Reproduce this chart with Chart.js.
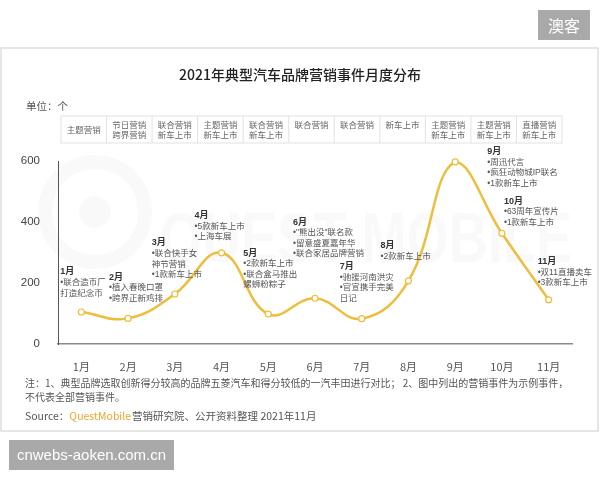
<!DOCTYPE html>
<html>
<head>
<meta charset="utf-8">
<script src="https://cdn.jsdelivr.net/npm/chart.js@4"></script>
<style>
  body { margin: 0; background: #fff; }
  canvas { display: block; }
</style>
</head>
<body>
<canvas id="chart" width="600" height="480"></canvas>
<script>
// Data
const months = ['1月', '2月', '3月', '4月', '5月', '6月', '7月', '8月', '9月', '10月', '11月'];
const eventCounts = [105, 84, 164, 299, 98, 150, 83, 207, 597, 363, 145];
const yTicks = [0, 200, 400, 600];

// marketing type per month (table above the chart)
const marketingTypes = [
    ['主题营销'],
    ['节日营销', '跨界营销'],
    ['联合营销', '新车上市'],
    ['主题营销', '新车上市'],
    ['联合营销', '新车上市'],
    ['联合营销'],
    ['联合营销'],
    ['新车上市'],
    ['主题营销', '新车上市'],
    ['主题营销', '新车上市'],
    ['直播营销', '新车上市']
];

// event notes per month
const eventNotes = [
    ['•联合造币厂', '打造纪念币'],
    ['•植入春晚口罩', '•跨界正新鸡排'],
    ['•联合快手女', '神节营销', '•1款新车上市'],
    ['•5款新车上市', '•上海车展'],
    ['•2款新车上市', '•联合盒马推出', '螺蛳粉粽子'],
    ['•"熊出没"联名款', '•留意盛夏嘉年华', '•联合家居品牌营销'],
    ['•驰援河南洪灾', '•官宣携手完美', '日记'],
    ['•2款新车上市'],
    ['•周迅代言', '•疯狂动物城IP联名', '•1款新车上市'],
    ['•63周年宣传片', '•1款新车上市'],
    ['•双11直播卖车', '•3款新车上市']
];

// where each note block sits relative to its point (layout only)
const noteOffsets = [
    [-21, -40], [-19, -41], [-23, -51], [-27, -37], [-25, -61], [-22, -76],
    [-22, -52], [-28, -35], [32, -10], [2, -32], [-11, -38]
];

const FONT = "'Noto Sans CJK SC', 'Liberation Sans', sans-serif";
const NOTE_FONT = "'Liberation Sans', 'Noto Sans CJK SC', sans-serif";
const LINE_COLOR = '#EEBD3B';

// Background: card, watermarks, title, table, footnotes
const decorPlugin = {
    id: 'decor',
    beforeDraw(chart) {
        const ctx = chart.ctx;
        const area = chart.chartArea;
        ctx.save();
        ctx.fillStyle = '#fff';
        ctx.fillRect(0, 0, 600, 480);

        // card border
        ctx.strokeStyle = '#dedede';
        ctx.lineWidth = 1.5;
        ctx.strokeRect(1, 48, 597, 383);

        // faint QuestMobile logo
        ctx.strokeStyle = 'rgba(0,0,0,0.025)';
        ctx.lineWidth = 14;
        ctx.beginPath();
        ctx.arc(95, 212, 50, 0, Math.PI * 2);
        ctx.stroke();
        ctx.fillStyle = 'rgba(0,0,0,0.025)';
        ctx.beginPath();
        ctx.arc(95, 212, 16, 0, Math.PI * 2);
        ctx.fill();
        ctx.font = "bold 70px 'Liberation Sans', sans-serif";
        ctx.textBaseline = 'alphabetic';
        ctx.textAlign = 'left';
        const wm = 'QUEST MOBILE';
        const sx = 412 / ctx.measureText(wm).width;
        ctx.translate(160, 262);
        ctx.scale(sx, 1);
        ctx.fillText(wm, 0, 0);
        ctx.setTransform(1, 0, 0, 1, 0, 0);

        // top-right tag
        ctx.fillStyle = '#a9a9a9';
        ctx.fillRect(538, 10, 52, 30);
        ctx.fillStyle = '#fff';
        ctx.font = '16px ' + FONT;
        ctx.textAlign = 'center';
        ctx.textBaseline = 'middle';
        ctx.fillText('澳客', 564, 26);

        // bottom-left tag
        ctx.fillStyle = '#a9a9a9';
        ctx.fillRect(9, 440, 165, 30);
        ctx.fillStyle = '#fff';
        ctx.font = "15px 'Liberation Sans', sans-serif";
        ctx.fillText('cnwebs-aoken.com.cn', 91.5, 456);

        // title
        ctx.fillStyle = '#222';
        ctx.font = '500 14px ' + FONT;
        ctx.fillText('2021年典型汽车品牌营销事件月度分布', 300, 75);

        // unit
        ctx.fillStyle = '#555';
        ctx.font = '10.5px ' + FONT;
        ctx.textAlign = 'left';
        ctx.fillText('单位：个', 26, 106);

        // marketing type table
        const tLeft = area.left + 3;
        const colW = (area.right - 10 - tLeft) / marketingTypes.length;
        const tTop = 116, tBottom = 143;
        ctx.strokeStyle = '#e2e2e2';
        ctx.lineWidth = 1;
        ctx.strokeRect(tLeft, tTop, colW * marketingTypes.length, tBottom - tTop);
        ctx.font = '8.5px ' + FONT;
        ctx.fillStyle = '#666';
        ctx.textAlign = 'center';
        marketingTypes.forEach((cell, i) => {
            const x0 = tLeft + colW * i;
            if (i > 0) {
                ctx.beginPath();
                ctx.moveTo(x0, tTop);
                ctx.lineTo(x0, tBottom);
                ctx.stroke();
            }
            const cx = x0 + colW / 2;
            if (cell.length === 2) {
                ctx.fillText(cell[0], cx, 124.5);
                ctx.fillText(cell[1], cx, 135);
            } else if (i === 0) {
                ctx.fillText(cell[0], cx, 129.5);
            } else {
                ctx.fillText(cell[0], cx, 124.5);
            }
        });

        // footnotes
        ctx.textAlign = 'left';
        ctx.fillStyle = '#555';
        ctx.font = '10px ' + FONT;
        ctx.fillText('注：1、典型品牌选取创新得分较高的品牌五菱汽车和得分较低的一汽丰田进行对比； 2、图中列出的营销事件为示例事件，', 25, 383);
        ctx.fillText('不代表全部营销事件。', 25, 397);
        ctx.font = '10.5px ' + FONT;
        let x = 25;
        ctx.fillText('Source：', x, 416);
        x += ctx.measureText('Source：').width;
        ctx.fillStyle = '#EFA52E';
        ctx.fillText('QuestMobile', x, 416);
        x += ctx.measureText('QuestMobile').width + 1;
        ctx.fillStyle = '#555';
        ctx.fillText('营销研究院、公开资料整理 2021年11月', x, 416);
        ctx.restore();
    },
    afterDatasetsDraw(chart) {
        const ctx = chart.ctx;
        const meta = chart.getDatasetMeta(0);
        ctx.save();
        ctx.textAlign = 'left';
        ctx.textBaseline = 'middle';
        meta.data.forEach((pt, i) => {
            const [dx, dy] = noteOffsets[i];
            const x = pt.x + dx;
            let y = pt.y + dy;
            ctx.fillStyle = '#333';
            ctx.font = 'bold 9px ' + NOTE_FONT;
            ctx.fillText(months[i], x, y);
            ctx.fillStyle = '#555';
            ctx.font = '8.5px ' + NOTE_FONT;
            eventNotes[i].forEach(line => {
                y += 10.6;
                ctx.fillText(line, x, y);
            });
        });
        ctx.restore();
    }
};

new Chart(document.getElementById('chart'), {
    type: 'line',
    data: {
        labels: months,
        datasets: [{
            data: eventCounts,
            borderColor: LINE_COLOR,
            borderWidth: 2.5,
            tension: 0.42,
            pointRadius: 3,
            pointBackgroundColor: '#fff',
            pointBorderColor: LINE_COLOR,
            pointBorderWidth: 1.2,
            fill: false,
            clip: false
        }]
    },
    options: {
        responsive: false,
        animation: false,
        layout: { padding: { left: 0, right: 28, top: 161, bottom: 106 } },
        plugins: {
            legend: { display: false },
            tooltip: { enabled: false }
        },
        scales: {
            x: {
                offset: true,
                grid: { display: false },
                border: { display: true, color: '#8a8a8a', width: 1.5 },
                ticks: { color: '#555', font: { family: FONT, size: 11 }, padding: 8 },
                afterFit: s => { s.height = 30; }
            },
            y: {
                min: 0,
                max: 600,
                afterBuildTicks: s => { s.ticks = yTicks.map(v => ({ value: v })); },
                grid: { display: false },
                border: { display: true, color: '#555', width: 1 },
                ticks: { color: '#444', font: { family: "'Liberation Sans', sans-serif", size: 11.5 }, padding: 10 },
                afterFit: s => { s.width = 58; }
            }
        }
    },
    plugins: [decorPlugin]
});
</script>
</body>
</html>
